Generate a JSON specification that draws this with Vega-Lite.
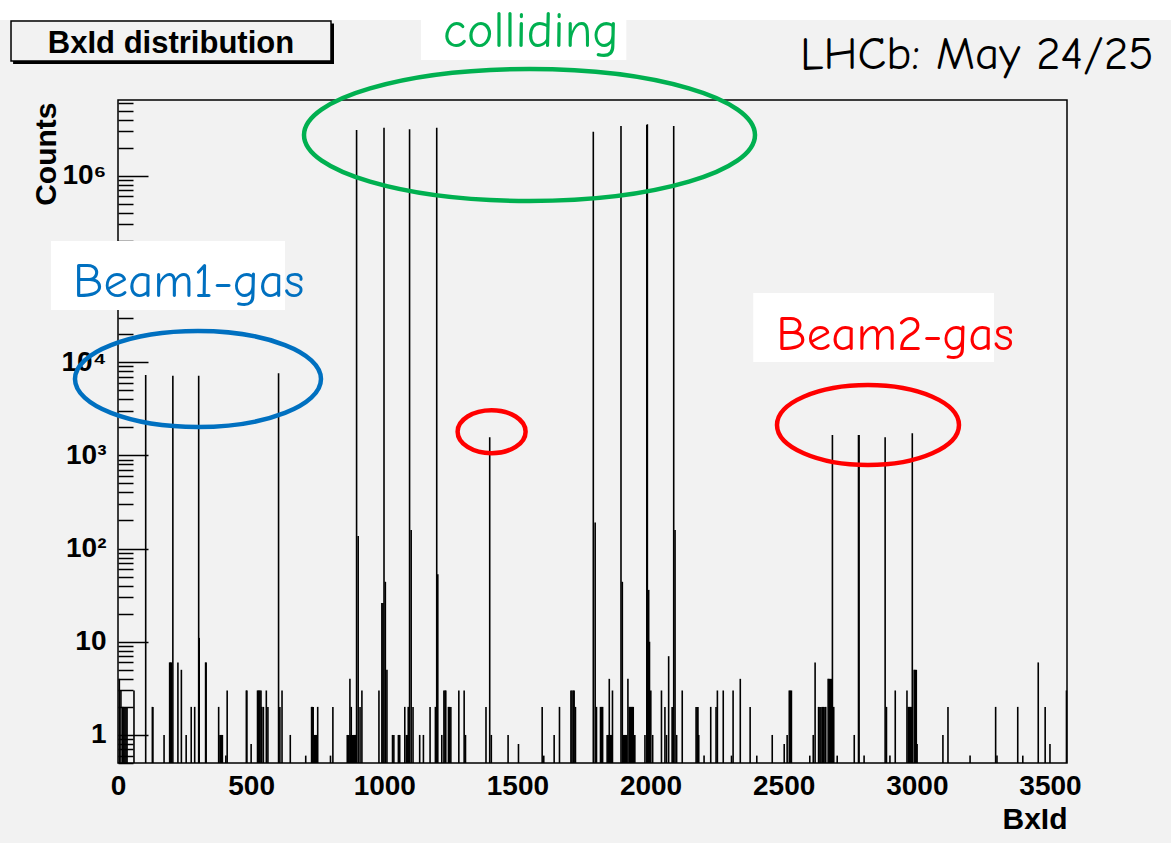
{
  "$schema": "https://vega.github.io/schema/vega-lite/v6.json",
  "width": 949,
  "height": 663,
  "autosize": {"type": "none"},
  "padding": {"left": 118, "top": 100, "right": 104, "bottom": 80},
  "background": "#f2f2f2",
  "config": {
    "view": {"stroke": "black", "strokeWidth": 1.5, "fill": "#f2f2f2"}
  },
  "encoding": {
    "x": {
      "field": "bx", "type": "quantitative",
      "scale": {"domain": [0, 3564], "nice": false, "zero": false},
      "axis": {
        "title": "BxId", "values": [0, 500, 1000, 1500, 2000, 2500, 3000, 3500], "format": "d",
        "ticks": false, "domain": false, "grid": false,
        "labelFont": "Liberation Sans", "labelFontWeight": "bold", "labelFontSize": 28, "labelColor": "black",
        "labelPadding": 9, "labelFlush": false, "labelOverlap": false,
        "titleFont": "Liberation Sans", "titleFontWeight": "bold", "titleFontSize": 30, "titleColor": "black",
        "titleAnchor": "end", "titleAlign": "right", "titleBaseline": "alphabetic", "titleX": 949, "titleY": 65
      }
    },
    "y": {
      "field": "counts", "type": "quantitative",
      "scale": {"type": "log", "domain": [0.5, 6500000], "nice": false},
      "axis": {
        "title": "Counts",
        "values": [0.5,0.6,0.7,0.8,0.9,1,2,3,4,5,6,7,8,9,10,20,30,40,50,60,70,80,90,100,200,300,400,500,600,700,800,900,1000,2000,3000,4000,5000,6000,7000,8000,9000,10000,20000,30000,40000,50000,60000,70000,80000,90000,100000,200000,300000,400000,500000,600000,700000,800000,900000,1000000,2000000,3000000,4000000,5000000,6000000],
        "domain": false, "grid": false,
        "tickColor": "black", "tickWidth": 1.5,
        "tickSize": {"condition": {"test": "datum.value == 1 || datum.value == 10 || datum.value == 100 || datum.value == 1000 || datum.value == 10000 || datum.value == 100000 || datum.value == 1000000", "value": -30}, "value": -15},
        "labelExpr": "datum.value == 1 ? '1' : datum.value == 10 ? '10' : datum.value == 100 ? '10²' : datum.value == 1000 ? '10³' : datum.value == 10000 ? '10⁴' : datum.value == 1000000 ? '10⁶' : ''",
        "labelFont": "Liberation Sans", "labelFontWeight": "bold", "labelFontSize": 28, "labelColor": "black",
        "labelPadding": 42, "labelOverlap": false, "labelBound": false, "labelFlush": false,
        "titleFont": "Liberation Sans", "titleFontWeight": "bold", "titleFontSize": 30, "titleColor": "black",
        "titleAngle": -90, "titleAlign": "right", "titleBaseline": "alphabetic", "titleX": -63, "titleY": 2
      }
    }
  },
  "layer": [
    {
      "data": {"values": [{"bx": -443.2, "bx2": 3954.6, "counts": 76900000, "counts2": 46900000}]},
      "mark": {"type": "rect", "fill": "white"},
      "encoding": {"x2": {"field": "bx2"}, "y2": {"field": "counts2"}}
    },
    {
      "data": {"values": [{"bx": -394, "bx2": 811.2, "counts": 43000000, "counts2": 15820000}]},
      "mark": {"type": "rect", "fill": "black"},
      "encoding": {"x2": {"field": "bx2"}, "y2": {"field": "counts2"}}
    },
    {
      "data": {"values": [{"bx": -401.8, "bx2": 799.9, "counts": 45770000, "counts2": 17030000}]},
      "mark": {"type": "rect", "fill": "#f2f2f2", "stroke": "black", "strokeWidth": 1.5},
      "encoding": {"x2": {"field": "bx2"}, "y2": {"field": "counts2"}}
    },
    {
      "data": {"values": [{"bx": 199, "counts": 20610000, "text": "BxId distribution"}]},
      "mark": {"type": "text", "align": "center", "baseline": "alphabetic", "font": "Liberation Sans", "fontWeight": "bold", "fontSize": 31, "color": "black"},
      "encoding": {"text": {"field": "text"}}
    },
    {
      "data": {"values": [
        {"bx": 5, "counts": 4}, {"bx": 11, "counts": 3}, {"bx": 18, "counts": 2}, {"bx": 22, "counts": 2}, {"bx": 26, "counts": 2}, {"bx": 30, "counts": 2}, {"bx": 34, "counts": 2}, {"bx": 60, "counts": 3},
        {"bx": 104, "counts": 7285}, {"bx": 129, "counts": 2}, {"bx": 131, "counts": 2}, {"bx": 173, "counts": 1},
        {"bx": 194, "counts": 6}, {"bx": 197, "counts": 6}, {"bx": 200, "counts": 6}, {"bx": 206, "counts": 7160},
        {"bx": 225, "counts": 6}, {"bx": 238, "counts": 5}, {"bx": 256, "counts": 1}, {"bx": 275, "counts": 2}, {"bx": 288, "counts": 2},
        {"bx": 303, "counts": 7160}, {"bx": 305, "counts": 11}, {"bx": 329, "counts": 6}, {"bx": 331, "counts": 6},
        {"bx": 378, "counts": 2}, {"bx": 383, "counts": 1}, {"bx": 386, "counts": 1}, {"bx": 389, "counts": 1}, {"bx": 392, "counts": 1},
        {"bx": 405, "counts": 0.6}, {"bx": 410, "counts": 3}, {"bx": 482, "counts": 3}, {"bx": 484, "counts": 3}, {"bx": 500, "counts": 0.8},
        {"bx": 524, "counts": 3}, {"bx": 527, "counts": 3}, {"bx": 530, "counts": 3}, {"bx": 533, "counts": 3}, {"bx": 537, "counts": 3}, {"bx": 540, "counts": 2},
        {"bx": 546, "counts": 2}, {"bx": 557, "counts": 3}, {"bx": 563, "counts": 2},
        {"bx": 603, "counts": 7580}, {"bx": 608, "counts": 2}, {"bx": 616, "counts": 3}, {"bx": 647, "counts": 1}, {"bx": 705, "counts": 0.6},
        {"bx": 727, "counts": 2}, {"bx": 730, "counts": 2}, {"bx": 733, "counts": 2}, {"bx": 737, "counts": 1}, {"bx": 741, "counts": 1}, {"bx": 745, "counts": 1}, {"bx": 750, "counts": 2},
        {"bx": 798, "counts": 0.6}, {"bx": 807, "counts": 2},
        {"bx": 861, "counts": 1}, {"bx": 864, "counts": 1}, {"bx": 867, "counts": 1}, {"bx": 871, "counts": 4}, {"bx": 873, "counts": 1}, {"bx": 876, "counts": 2}, {"bx": 879, "counts": 1}, {"bx": 882, "counts": 1}, {"bx": 885, "counts": 1}, {"bx": 888, "counts": 1}, {"bx": 891, "counts": 1}, {"bx": 893, "counts": 1},
        {"bx": 896, "counts": 3100000}, {"bx": 902, "counts": 136}, {"bx": 909, "counts": 2}, {"bx": 916, "counts": 3},
        {"bx": 980, "counts": 3}, {"bx": 991, "counts": 26}, {"bx": 995, "counts": 26}, {"bx": 999, "counts": 3280000}, {"bx": 1004, "counts": 44}, {"bx": 1010, "counts": 5},
        {"bx": 1031, "counts": 1}, {"bx": 1036, "counts": 1}, {"bx": 1053, "counts": 1}, {"bx": 1058, "counts": 1}, {"bx": 1077, "counts": 2}, {"bx": 1083, "counts": 1}, {"bx": 1087, "counts": 1}, {"bx": 1090, "counts": 2},
        {"bx": 1095, "counts": 3150000}, {"bx": 1101, "counts": 158}, {"bx": 1108, "counts": 2}, {"bx": 1133, "counts": 1}, {"bx": 1147, "counts": 1}, {"bx": 1172, "counts": 2}, {"bx": 1192, "counts": 2},
        {"bx": 1197, "counts": 3280000}, {"bx": 1201, "counts": 53}, {"bx": 1216, "counts": 1}, {"bx": 1224, "counts": 3}, {"bx": 1228, "counts": 3}, {"bx": 1231, "counts": 3},
        {"bx": 1241, "counts": 2}, {"bx": 1245, "counts": 2}, {"bx": 1250, "counts": 2}, {"bx": 1280, "counts": 3}, {"bx": 1300, "counts": 3}, {"bx": 1305, "counts": 1},
        {"bx": 1382, "counts": 2}, {"bx": 1396, "counts": 1563}, {"bx": 1402, "counts": 1}, {"bx": 1465, "counts": 1}, {"bx": 1504, "counts": 0.8},
        {"bx": 1593, "counts": 2}, {"bx": 1599, "counts": 0.6}, {"bx": 1638, "counts": 1}, {"bx": 1658, "counts": 2},
        {"bx": 1701, "counts": 3}, {"bx": 1705, "counts": 3}, {"bx": 1710, "counts": 3}, {"bx": 1713, "counts": 3}, {"bx": 1718, "counts": 2},
        {"bx": 1785, "counts": 2970000}, {"bx": 1792, "counts": 190}, {"bx": 1797, "counts": 2}, {"bx": 1812, "counts": 2}, {"bx": 1816, "counts": 2}, {"bx": 1820, "counts": 2},
        {"bx": 1837, "counts": 1}, {"bx": 1841, "counts": 1}, {"bx": 1845, "counts": 4}, {"bx": 1849, "counts": 1}, {"bx": 1854, "counts": 1}, {"bx": 1857, "counts": 3},
        {"bx": 1889, "counts": 3420000}, {"bx": 1894, "counts": 44},
        {"bx": 1898, "counts": 1}, {"bx": 1902, "counts": 1}, {"bx": 1906, "counts": 1}, {"bx": 1910, "counts": 1}, {"bx": 1915, "counts": 4}, {"bx": 1920, "counts": 2}, {"bx": 1924, "counts": 2}, {"bx": 1928, "counts": 2}, {"bx": 1932, "counts": 2}, {"bx": 1935, "counts": 2}, {"bx": 1938, "counts": 1}, {"bx": 1941, "counts": 1},
        {"bx": 1979, "counts": 1}, {"bx": 1986, "counts": 3500000}, {"bx": 1988, "counts": 3570000}, {"bx": 1993, "counts": 36}, {"bx": 1996, "counts": 10},
        {"bx": 2001, "counts": 3}, {"bx": 2008, "counts": 1}, {"bx": 2041, "counts": 3}, {"bx": 2054, "counts": 2}, {"bx": 2060, "counts": 1}, {"bx": 2068, "counts": 7}, {"bx": 2081, "counts": 2}, {"bx": 2084, "counts": 2},
        {"bx": 2087, "counts": 3420000}, {"bx": 2092, "counts": 158}, {"bx": 2098, "counts": 1}, {"bx": 2119, "counts": 3},
        {"bx": 2171, "counts": 2}, {"bx": 2175, "counts": 2}, {"bx": 2178, "counts": 2}, {"bx": 2181, "counts": 1}, {"bx": 2201, "counts": 0.6}, {"bx": 2226, "counts": 2},
        {"bx": 2246, "counts": 2}, {"bx": 2251, "counts": 3}, {"bx": 2273, "counts": 3}, {"bx": 2304, "counts": 0.6}, {"bx": 2310, "counts": 3}, {"bx": 2337, "counts": 4},
        {"bx": 2374, "counts": 2}, {"bx": 2399, "counts": 0.6}, {"bx": 2457, "counts": 1}, {"bx": 2502, "counts": 0.8}, {"bx": 2513, "counts": 1},
        {"bx": 2521, "counts": 3}, {"bx": 2525, "counts": 3}, {"bx": 2529, "counts": 3}, {"bx": 2598, "counts": 0.6}, {"bx": 2611, "counts": 1}, {"bx": 2618, "counts": 6},
        {"bx": 2631, "counts": 2}, {"bx": 2636, "counts": 2}, {"bx": 2640, "counts": 2}, {"bx": 2645, "counts": 2}, {"bx": 2650, "counts": 2}, {"bx": 2655, "counts": 2}, {"bx": 2658, "counts": 2},
        {"bx": 2667, "counts": 4}, {"bx": 2671, "counts": 4}, {"bx": 2675, "counts": 4}, {"bx": 2680, "counts": 4},
        {"bx": 2683, "counts": 1654}, {"bx": 2688, "counts": 2}, {"bx": 2701, "counts": 0.6}, {"bx": 2765, "counts": 1},
        {"bx": 2781, "counts": 1654}, {"bx": 2783, "counts": 1654}, {"bx": 2802, "counts": 0.6},
        {"bx": 2881, "counts": 1563}, {"bx": 2886, "counts": 2}, {"bx": 2899, "counts": 0.6}, {"bx": 2919, "counts": 3},
        {"bx": 2963, "counts": 3}, {"bx": 2968, "counts": 2}, {"bx": 2972, "counts": 2}, {"bx": 2976, "counts": 2}, {"bx": 2980, "counts": 2},
        {"bx": 2983, "counts": 1726}, {"bx": 2990, "counts": 5}, {"bx": 2994, "counts": 5}, {"bx": 2998, "counts": 5}, {"bx": 3001, "counts": 0.8},
        {"bx": 3098, "counts": 1}, {"bx": 3117, "counts": 2}, {"bx": 3200, "counts": 0.6}, {"bx": 3296, "counts": 2}, {"bx": 3301, "counts": 0.6},
        {"bx": 3379, "counts": 2}, {"bx": 3398, "counts": 0.6}, {"bx": 3456, "counts": 6}, {"bx": 3482, "counts": 2}, {"bx": 3500, "counts": 0.8}, {"bx": 3562, "counts": 3}
      ]},
      "mark": {"type": "rule", "color": "black", "strokeWidth": 1.6},
      "encoding": {"y2": {"datum": 0.5}}
    },
    {
      "data": {"values": [{"bx": 1545.4, "counts": 2737000}]},
      "mark": {"type": "point", "shape": "M -1 0 A 1 0.2927 0 1 1 1 0 A 1 0.2927 0 1 1 -1 0 Z", "size": 203401, "filled": false, "stroke": "#00B050", "strokeWidth": 4.5, "opacity": 1}
    },
    {
      "data": {"values": [{"bx": 300.4, "counts": 6597}]},
      "mark": {"type": "point", "shape": "M -1 0 A 1 0.3902 0 1 1 1 0 A 1 0.3902 0 1 1 -1 0 Z", "size": 60516, "filled": false, "stroke": "#0070C0", "strokeWidth": 4.5, "opacity": 1}
    },
    {
      "data": {"values": [{"bx": 1403.1, "counts": 1794}]},
      "mark": {"type": "point", "shape": "M -1 0 A 1 0.632 0 1 1 1 0 A 1 0.632 0 1 1 -1 0 Z", "size": 4624, "filled": false, "stroke": "#FF0000", "strokeWidth": 4.5, "opacity": 1}
    },
    {
      "data": {"values": [{"bx": 2816.6, "counts": 2117}]},
      "mark": {"type": "point", "shape": "M -1 0 A 1 0.4396 0 1 1 1 0 A 1 0.4396 0 1 1 -1 0 Z", "size": 33124, "filled": false, "stroke": "#FF0000", "strokeWidth": 4.5, "opacity": 1}
    },
    {
      "data": {"values": [
        {"bx": 1137.9, "bx2": 1909, "counts": 76900000, "counts2": 17460000},
        {"bx": -251.6, "bx2": 627.2, "counts": 199500, "counts2": 36270},
        {"bx": 2385.8, "bx2": 3289.8, "counts": 55230, "counts2": 10039}
      ]},
      "mark": {"type": "rect", "fill": "white"},
      "encoding": {"x2": {"field": "bx2"}, "y2": {"field": "counts2"}}
    },
    {
      "data": {"values": [{"bx": 1220.5, "counts": 24000000, "text": "colliding"}]},
      "mark": {"type": "text", "align": "left", "baseline": "alphabetic", "font": "Comic Sans MS, Comic Neue, Noto Sans", "fontSize": 50, "color": "#00B050"},
      "encoding": {"text": {"field": "text"}}
    },
    {
      "data": {"values": [{"bx": -169.0, "counts": 50030, "text": "Beam1-gas"}]},
      "mark": {"type": "text", "align": "left", "baseline": "alphabetic", "font": "Comic Sans MS, Comic Neue, Noto Sans", "fontSize": 49, "color": "#0070C0"},
      "encoding": {"text": {"field": "text"}}
    },
    {
      "data": {"values": [{"bx": 2472.2, "counts": 13505, "text": "Beam2-gas"}]},
      "mark": {"type": "text", "align": "left", "baseline": "alphabetic", "font": "Comic Sans MS, Comic Neue, Noto Sans", "fontSize": 49, "color": "#FF0000"},
      "encoding": {"text": {"field": "text"}}
    },
    {
      "data": {"values": [{"bx": 2561.3, "counts": 13980000, "text": "LHCb: May 24/25"}]},
      "mark": {"type": "text", "align": "left", "baseline": "alphabetic", "font": "Comic Sans MS, Comic Neue, Noto Sans", "fontSize": 47, "color": "black"},
      "encoding": {"text": {"field": "text"}}
    }
  ]
}
